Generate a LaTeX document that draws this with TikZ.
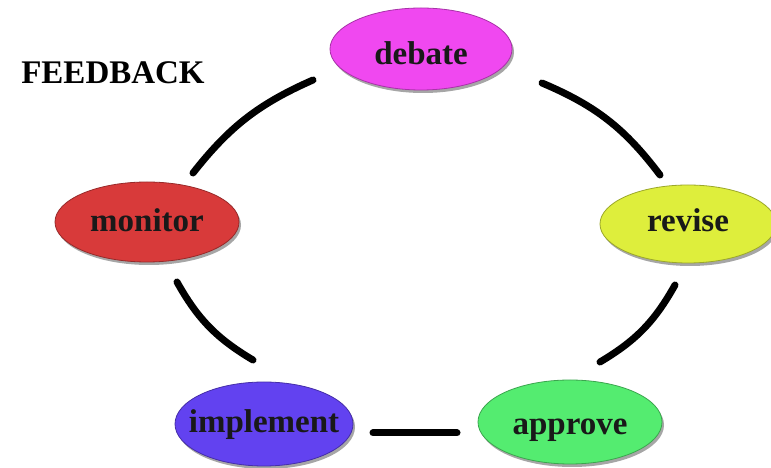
\documentclass[tikz,border=0pt]{standalone}
\usepackage{fontspec}
\setmainfont{Liberation Serif}
\usetikzlibrary{shapes.geometric,shadows}
\definecolor{cdebate}{RGB}{240,72,240}
\definecolor{crevise}{RGB}{222,238,60}
\definecolor{cmonitor}{RGB}{216,58,58}
\definecolor{cimpl}{RGB}{98,66,240}
\definecolor{capprove}{RGB}{84,236,112}
\tikzset{
  bubble/.style={ellipse, inner sep=0pt, fill=#1, draw=#1!70!black, line width=0.8pt,
    drop shadow={shadow xshift=2pt, shadow yshift=-3pt, opacity=0.35, fill=black}},
  lbl/.style={font=\fontsize{33}{36}\selectfont\bfseries, text=black!90, inner sep=0pt,
    text height=20pt, text depth=6pt},
  conn/.style={line width=7pt, line cap=round, draw=black}
}
\begin{document}
\begin{tikzpicture}[x=1pt,y=1pt]
\useasboundingbox[fill=white] (0,0) rectangle (771,468);
\node[font=\fontsize{33}{36}\selectfont\bfseries, inner sep=0pt] (title) at (113,395) {FEEDBACK};
\node[bubble=cdebate, minimum width=182, minimum height=82, label={[lbl, yshift=-9pt]center:debate}] (debate) at (421,419) {};
\node[bubble=crevise, minimum width=176, minimum height=78, label={[lbl, yshift=-1pt]center:revise}] (revise) at (688,244) {};
\node[bubble=cmonitor, minimum width=184, minimum height=80, label={[lbl, yshift=-3pt]center:monitor}] (monitor) at (147,246) {};
\node[bubble=cimpl, minimum width=178, minimum height=84, label={[lbl, yshift=-2pt]center:implement}] (implement) at (264,44) {};
\node[bubble=capprove, minimum width=184, minimum height=84, label={[lbl, yshift=-6pt]center:approve}] (approve) at (570,46) {};
\coordinate (dm1) at (313,388);
\coordinate (dm2) at (193,295);
\coordinate (dr1) at (542,385);
\coordinate (dr2) at (660,293);
\coordinate (ra1) at (675,183);
\coordinate (ra2) at (600,106);
\coordinate (mi1) at (177,186);
\coordinate (mi2) at (253,108);
\coordinate (ia1) at (373,35);
\coordinate (ia2) at (457,35);
\draw[conn] (dm1) to[bend right=14] (dm2);
\draw[conn] (dr1) to[bend left=15] (dr2);
\draw[conn] (ra1) to[bend left=15] (ra2);
\draw[conn] (mi1) to[bend right=15] (mi2);
\draw[conn] (ia1) -- (ia2);
\end{tikzpicture}
\end{document}
